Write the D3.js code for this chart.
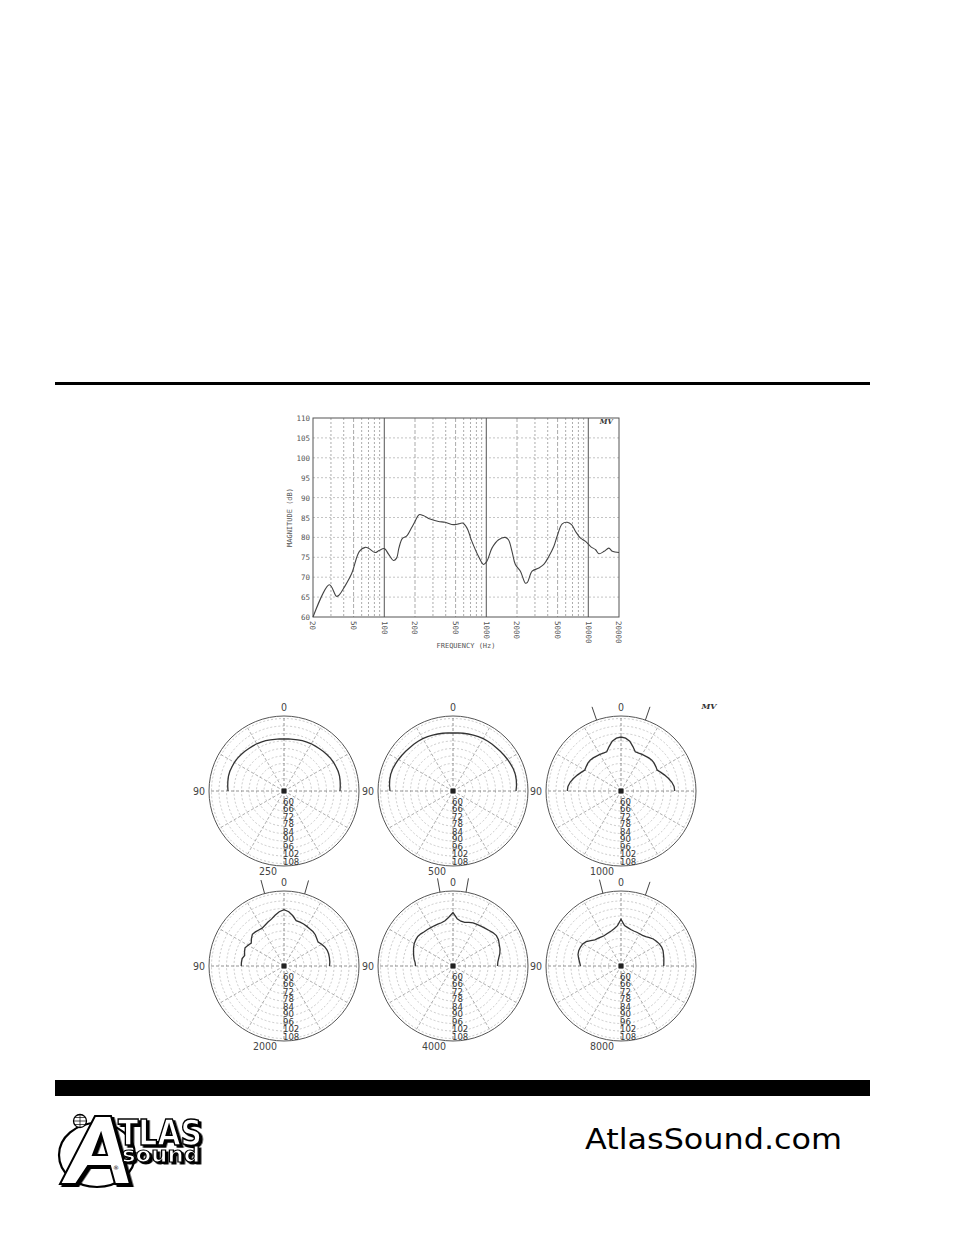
<!DOCTYPE html>
<html>
<head>
<meta charset="utf-8">
<script src="https://cdn.jsdelivr.net/npm/d3@7"></script>
<style>
html,body{margin:0;padding:0;background:#fff;}
svg{display:block;}
</style>
</head>
<body>
<svg id="page" width="954" height="1235"></svg>
<script>
// ---------- DATA ----------
// Frequency response (Hz, dB)
const freqHz = [20,29,34,36,41,48,57,65,70,81,89,100,110,123,132,139,150,165,185,200,219,241,281,340,395,477,535,585,645,722,840,940,1013,1136,1320,1535,1650,1786,1928,2160,2418,2530,2813,3270,3660,4100,4590,4950,5550,6210,6850,7500,8400,9400,10540,11800,12700,14300,15900,17200,20000];
const magDb = [60,68.1,65.2,65.5,67.7,71,76.5,77.5,77.3,76.2,76.7,77.2,75.8,74.2,74.8,77.3,79.7,80.3,82.4,84,85.7,85.5,84.6,84,83.8,83.2,83.4,83.6,82.4,79,75.2,73.2,74,77.3,79.4,80,79.4,76.5,73.2,71.5,68.5,68.7,71.5,72.3,73.2,75.2,77.7,80.3,83.4,83.8,83.2,81.5,79.8,79,77.7,76.9,75.9,76.5,77.3,76.5,76.2];
const yTicks = [60,65,70,75,80,85,90,95,100,105,110];
const xTickLabels = [20,50,100,200,500,1000,2000,5000,10000,20000];
const xMajor = [100,1000,10000];

// Polar patterns: angle (deg, 0 = on-axis) and level (dB)
const polarAngles = d3.range(-90, 91, 5);
const polarFreqs = ["250","500","1000","2000","4000","8000"];
const p250 = [94.8,95.2,95.6,96,96.1,95.9,95.8,95.5,95,94.6,94.2,93.8,93.6,93.2,92.8,92.4,92,91.8,91.6,91.8,92,92.4,92.8,93.2,93.6,93.8,94.2,94.6,95,95.5,95.8,95.9,96.1,96,95.6,95.2,94.8];
const p500 = [100.4,101,101.4,101.6,101.4,100.9,100.4,99.9,99.4,99,98.8,98.6,98.4,98,97.6,97.2,96.9,96.6,96.4,96.6,96.9,97.2,97.6,98,98.4,98.6,98.8,99,99.4,99.9,100.4,100.9,101.4,101.6,101.4,101,100.4];
const p1000 = [93,92.6,91.2,89.2,87.2,85.2,83.4,84,84.6,84.9,84.6,84.1,83.8,83.4,83.4,86.8,90.4,92.4,93.2,92.4,90.4,86.8,83.4,83.4,83.8,84.1,84.6,84.9,84.6,84,83.4,85.2,87.2,89.2,91.2,92.6,93];
const p2000 = [84.2,84.2,84,82.6,83.6,84.4,83.2,82,84,85.8,85.6,85.2,85,86,87.4,88.8,91.2,93.6,95,93.6,90.8,87.6,87.4,87.1,86.6,86.2,86,85.4,84.2,83.3,84.8,86,86.8,87,86.9,86.8,86.4];
const p4000 = [80,80.4,81.6,82.6,83.6,84.8,85.8,86.4,86.8,86.4,85.8,85.6,85.5,85.5,85.6,85.8,86.8,89.2,92.8,88,86.4,86.2,87.2,88,88.4,88.9,89.6,90.4,91.6,92.4,92,90.8,90,88.8,87.2,86,85.6];
const p8000 = [82.4,83.2,84.4,85.6,86,85.8,85.4,84,81.6,79.6,78.8,78.2,77.7,78,78.5,79.2,80.4,82.4,87.4,82.4,81.2,80.2,79.8,79.8,79.8,80,80.8,82.2,83.6,84.6,85.4,85.9,85.8,85.2,84.8,84.4,84.2];
const polarData = [p250,p500,p1000,p2000,p4000,p8000];
const beamMarks = [null,null,[-19,19],[-15,16],[-10,10],[-14,19]];
const ringLevels = [60,66,72,78,84,90,96,102,108];
const spokeAngles = d3.range(0, 360, 30);

// ---------- PAGE ----------
const svg = d3.select("#page");
const ink = "#000";
const defs = svg.append("defs");
const flt = defs.append("filter").attr("id","shadow").attr("x","-20%").attr("y","-20%").attr("width","150%").attr("height","150%");
flt.append("feDropShadow").attr("dx",2.5).attr("dy",2).attr("stdDeviation",0).attr("flood-color","#000");

// top rule
svg.append("line").attr("x1",55).attr("x2",870).attr("y1",383.5).attr("y2",383.5)
  .attr("stroke",ink).attr("stroke-width",3);

// ---------- FREQUENCY RESPONSE ----------
const fx = d3.scaleLog().domain([20,20000]).range([313,619]);
const fy = d3.scaleLinear().domain([60,110]).range([617,418]);
const fg = svg.append("g");

const minorFreqs = [];
[10,100,1000,10000].forEach(dec => { for (let m=1;m<=9;m++){ const f=dec*m; if (f>20 && f<20000 && !xMajor.includes(f)) minorFreqs.push(f);} });
fg.selectAll("line.vmin").data(minorFreqs).join("line")
  .attr("x1",d=>fx(d)).attr("x2",d=>fx(d)).attr("y1",fy(110)).attr("y2",fy(60))
  .attr("stroke","#888").attr("stroke-width",0.7)
  .attr("stroke-dasharray", d => ([50,200,500,2000,5000].includes(d) ? "4,2" : "2,2"));
fg.selectAll("line.h").data(yTicks.slice(1,-1)).join("line")
  .attr("x1",fx(20)).attr("x2",fx(20000)).attr("y1",d=>fy(d)).attr("y2",d=>fy(d))
  .attr("stroke","#aaa").attr("stroke-width",0.7).attr("stroke-dasharray","2,2");
fg.selectAll("line.vmaj").data(xMajor).join("line")
  .attr("x1",d=>fx(d)).attr("x2",d=>fx(d)).attr("y1",fy(110)).attr("y2",fy(60))
  .attr("stroke","#555").attr("stroke-width",1);
fg.append("rect").attr("x",fx(20)).attr("y",fy(110)).attr("width",fx(20000)-fx(20)).attr("height",fy(60)-fy(110))
  .attr("fill","none").attr("stroke","#555").attr("stroke-width",1);

fg.selectAll("text.yt").data(yTicks).join("text")
  .attr("x",fx(20)-3).attr("y",d=>fy(d)+3).attr("text-anchor","end")
  .attr("font-family","DejaVu Sans Mono, monospace").attr("font-size",7.5).attr("fill","#555")
  .text(d=>d);
fg.selectAll("text.xt").data(xTickLabels).join("text")
  .attr("transform",d=>`translate(${fx(d)-2.7},${fy(60)+4}) rotate(90)`)
  .attr("text-anchor","start")
  .attr("font-family","DejaVu Sans Mono, monospace").attr("font-size",7.5).attr("fill","#555")
  .text(d=>d);
fg.append("text").attr("x",(fx(20)+fx(20000))/2).attr("y",648).attr("text-anchor","middle")
  .attr("font-family","DejaVu Sans Mono, monospace").attr("font-size",7).attr("fill","#555")
  .text("FREQUENCY (Hz)");
fg.append("text").attr("transform",`translate(292,${(fy(60)+fy(110))/2}) rotate(-90)`).attr("text-anchor","middle")
  .attr("font-family","DejaVu Sans Mono, monospace").attr("font-size",7).attr("fill","#555")
  .text("MAGNITUDE (dB)");
fg.append("text").attr("x",613).attr("y",fy(108.4)).attr("text-anchor","end")
  .attr("font-family","DejaVu Serif, serif").attr("font-style","italic").attr("font-weight","bold")
  .attr("font-size",7).attr("fill","#333").text("MV");

const fLine = d3.line().x((d,i)=>fx(freqHz[i])).y(d=>fy(d)).curve(d3.curveCatmullRom.alpha(0.5));
fg.append("path").attr("d",fLine(magDb)).attr("fill","none").attr("stroke","#444").attr("stroke-width",1.1);

// ---------- POLAR PLOTS ----------
const colX = [284, 453, 621];
const rowY = [791, 966];
const R = 75;
const rScale = d3.scaleLinear().domain([50,110]).range([0,R]);
const rad = a => a*Math.PI/180;
const labFont = "Liberation Sans Narrow, DejaVu Sans Condensed, sans-serif";

polarData.forEach((vals, k) => {
  const cx = colX[k%3], cy = rowY[Math.floor(k/3)];
  const g = svg.append("g").attr("transform",`translate(${cx},${cy})`);
  g.selectAll("circle.ring").data(ringLevels).join("circle")
    .attr("r",d=>rScale(d)).attr("fill","none").attr("stroke","#b5b5b5")
    .attr("stroke-width",0.7).attr("stroke-dasharray","2,2");
  g.selectAll("line.sp").data(spokeAngles).join("line")
    .attr("x1",0).attr("y1",0)
    .attr("x2",d=>R*Math.sin(rad(d))).attr("y2",d=>-R*Math.cos(rad(d)))
    .attr("stroke",d => (d%90===0 ? "#777" : "#999")).attr("stroke-width",0.8)
    .attr("stroke-dasharray","3,2");
  g.append("circle").attr("r",R).attr("fill","none").attr("stroke","#555").attr("stroke-width",1);
  if (beamMarks[k]) {
    g.selectAll("line.bm").data(beamMarks[k]).join("line")
      .attr("x1",d=>R*Math.sin(rad(d))).attr("y1",d=>-R*Math.cos(rad(d)))
      .attr("x2",d=>(R+14)*Math.sin(rad(d))).attr("y2",d=>-(R+14)*Math.cos(rad(d)))
      .attr("stroke","#444").attr("stroke-width",1);
  }
  const pl = d3.lineRadial().angle((d,i)=>rad(polarAngles[i])).radius(d=>rScale(d));
  g.append("path").attr("d",pl(vals)).attr("fill","none").attr("stroke","#333").attr("stroke-width",1.3);
  g.append("rect").attr("x",-2.5).attr("y",-2.5).attr("width",5).attr("height",5).attr("fill","#222");
  g.selectAll("text.rl").data(ringLevels).join("text")
    .attr("x",-1).attr("y",d=>rScale(d)+1)
    .attr("font-family",labFont).attr("font-stretch","condensed")
    .attr("font-size",9.5).attr("fill","#333").text(d=>d);
  const lab = {"font-family":labFont,"font-size":10.5,"fill":"#444"};
  const t0 = g.append("text").attr("x",0).attr("y",-R-5).attr("text-anchor","middle").text("0");
  const t90 = g.append("text").attr("x",-R-4).attr("y",4).attr("text-anchor","end").text("90");
  const tf = g.append("text").attr("x",-7).attr("y",R+9).attr("text-anchor","end").text(polarFreqs[k]);
  [t0,t90,tf].forEach(t => Object.entries(lab).forEach(([a,v]) => t.attr(a,v)));
});
svg.append("text").attr("x",709).attr("y",709).attr("text-anchor","middle")
  .attr("font-family","DejaVu Serif, serif").attr("font-style","italic").attr("font-weight","bold")
  .attr("font-size",8).attr("fill","#333").text("MV");

// ---------- FOOTER ----------
svg.append("rect").attr("x",55).attr("y",1080).attr("width",815).attr("height",16).attr("fill",ink);

const logo = svg.append("g");
logo.append("ellipse").attr("cx",97).attr("cy",1155).attr("rx",38).attr("ry",32)
  .attr("fill","none").attr("stroke",ink).attr("stroke-width",2.2);
logo.append("circle").attr("cx",80).attr("cy",1121).attr("r",6.5).attr("fill","#fff").attr("stroke",ink).attr("stroke-width",1.3);
logo.append("path").attr("d","M74,1121 H86 M80,1114.5 V1127.5 M75,1117.5 H85 M75,1124.5 H85").attr("stroke",ink).attr("stroke-width",0.7);
// big A as outlined shape with shadow
logo.append("path")
  .attr("d","M95,1116 L111,1116 L130,1184 L115,1184 L110,1166 L88,1166 L76,1184 L60,1184 Z M101,1134 L107,1155 L93,1155 Z")
  .attr("fill","#fff").attr("fill-rule","evenodd").attr("stroke",ink).attr("stroke-width",2)
  .attr("filter","url(#shadow)");
logo.append("text").attr("x",118).attr("y",1145).attr("font-family","DejaVu Sans, sans-serif").attr("font-weight","bold")
  .attr("font-size",36).attr("textLength",84).attr("lengthAdjust","spacingAndGlyphs")
  .attr("fill","#fff").attr("stroke",ink).attr("stroke-width",1.6).attr("filter","url(#shadow)").text("TLAS");
logo.append("text").attr("x",122).attr("y",1162).attr("font-family","DejaVu Sans, sans-serif").attr("font-weight","bold")
  .attr("font-size",21).attr("textLength",78).attr("lengthAdjust","spacingAndGlyphs")
  .attr("fill","#fff").attr("stroke",ink).attr("stroke-width",1.2).attr("filter","url(#shadow)").text("sound");
logo.append("text").attr("x",113).attr("y",1170).attr("font-family","DejaVu Sans, sans-serif")
  .attr("font-size",6).attr("fill",ink).text("®");

svg.append("text").attr("x",585).attr("y",1149).attr("font-family","DejaVu Sans, sans-serif")
  .attr("font-size",29).attr("textLength",257).attr("lengthAdjust","spacingAndGlyphs")
  .attr("fill",ink).text("AtlasSound.com");
</script>
</body>
</html>
